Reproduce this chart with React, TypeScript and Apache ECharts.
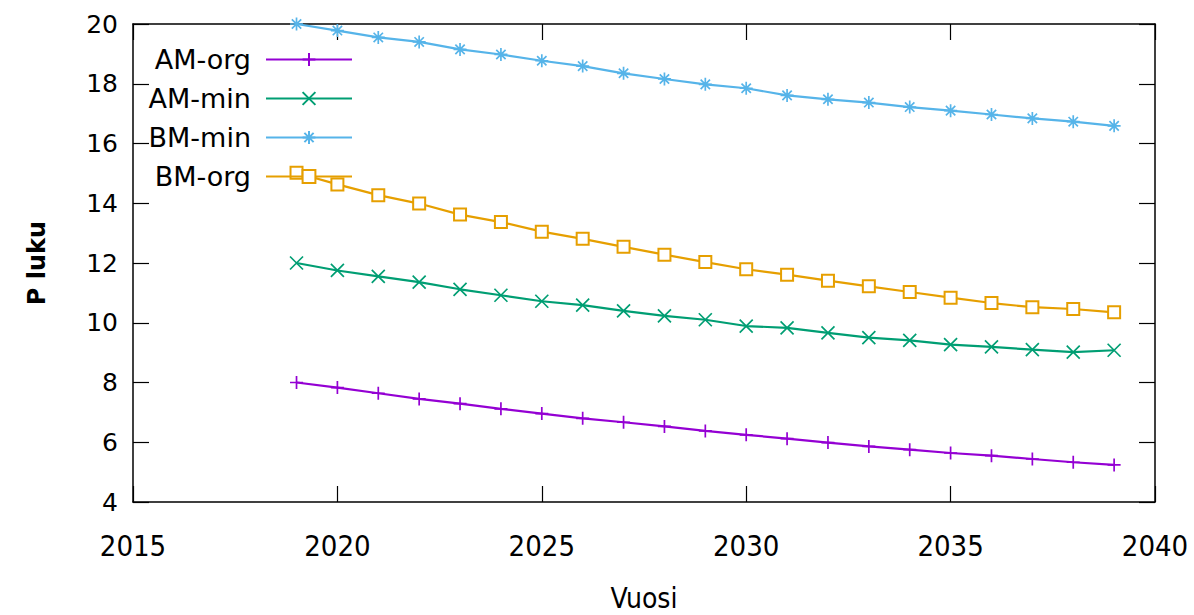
import React, { useEffect, useRef } from "react";
import * as echarts from "echarts";

const years = [2019, 2020, 2021, 2022, 2023, 2024, 2025, 2026, 2027, 2028, 2029, 2030, 2031, 2032, 2033, 2034, 2035, 2036, 2037, 2038, 2039];
const amOrg = [8.0, 7.83, 7.64, 7.45, 7.29, 7.12, 6.96, 6.8, 6.67, 6.53, 6.38, 6.25, 6.12, 5.99, 5.86, 5.75, 5.64, 5.55, 5.44, 5.33, 5.24];
const amMin = [12.0, 11.75, 11.55, 11.36, 11.12, 10.92, 10.72, 10.59, 10.4, 10.23, 10.1, 9.89, 9.83, 9.66, 9.5, 9.41, 9.27, 9.19, 9.1, 9.02, 9.08];
const bmMin = [20.0, 19.78, 19.55, 19.4, 19.15, 18.98, 18.77, 18.59, 18.35, 18.16, 17.98, 17.85, 17.61, 17.48, 17.37, 17.22, 17.1, 16.97, 16.84, 16.73, 16.59];
const bmOrg = [15.02, 14.63, 14.27, 13.99, 13.62, 13.37, 13.05, 12.81, 12.54, 12.28, 12.03, 11.79, 11.61, 11.41, 11.22, 11.03, 10.84, 10.66, 10.52, 10.46, 10.35];
const seriesNames = ["AM-org", "AM-min", "BM-min", "BM-org"];
const xTicks = { min: 2015, max: 2040, step: 5 };
const yTicks = { min: 4, max: 20, step: 2 };

const colors = ["#9400D3", "#009E73", "#56B4E9", "#E69F00"];
const symbols = [
  "path://M0,-1V1M-1,0H1",
  "path://M-1,-1L1,1M-1,1L1,-1",
  "path://M0,-1V1M-1,0H1M-0.72,-0.72L0.72,0.72M-0.72,0.72L0.72,-0.72",
  "emptyRect",
];

export default function App() {
  const ref = useRef<HTMLDivElement>(null);
  useEffect(() => {
    if (!ref.current) return;
    const chart = echarts.init(ref.current, null, { renderer: "svg" });
    const values = [amOrg, amMin, bmMin, bmOrg];
    const axisLine = { show: true, lineStyle: { color: "#000", width: 1.5 } };
    const tick = { show: true, inside: true, length: 16, lineStyle: { color: "#000", width: 1.2 } };
    const xLabelFont = "'DejaVu Sans Condensed', 'DejaVu Sans', sans-serif";
    chart.setOption({
      animation: false,
      backgroundColor: "#fff",
      grid: { left: 133, right: 39, top: 24, bottom: 113, containLabel: false, outerBoundsMode: "none" },
      legend: {
        orient: "vertical",
        align: "right",
        right: 841,
        top: 46,
        padding: 0,
        itemWidth: 86,
        itemHeight: 16,
        itemGap: 12,
        data: seriesNames,
        textStyle: {
          fontFamily: "'DejaVu Sans', sans-serif",
          fontSize: 27,
          color: "#000",
          padding: [0, 10, 0, 0],
        },
      },
      xAxis: [
        {
          type: "value",
          min: xTicks.min,
          max: xTicks.max,
          interval: xTicks.step,
          position: "bottom",
          name: "Vuosi",
          nameLocation: "middle",
          nameGap: 82,
          nameTextStyle: { fontFamily: xLabelFont, fontSize: 28, color: "#000" },
          axisLine,
          axisTick: tick,
          splitLine: { show: false },
          axisLabel: {
            fontFamily: xLabelFont,
            fontSize: 29,
            color: "#000",
            margin: 29,
            formatter: (v: number) => String(v),
          },
        },
        {
          type: "value",
          min: xTicks.min,
          max: xTicks.max,
          interval: xTicks.step,
          position: "top",
          axisLine,
          axisTick: tick,
          splitLine: { show: false },
          axisLabel: { show: false },
        },
      ],
      yAxis: [
        {
          type: "value",
          min: yTicks.min,
          max: yTicks.max,
          interval: yTicks.step,
          position: "left",
          name: "P luku",
          nameLocation: "middle",
          nameGap: 84,
          nameTextStyle: { fontFamily: "'DejaVu Sans', sans-serif", fontSize: 24, fontWeight: "bold", color: "#000" },
          axisLine,
          axisTick: tick,
          splitLine: { show: false },
          axisLabel: { fontFamily: "'DejaVu Sans', sans-serif", fontSize: 25, color: "#000", margin: 15 },
        },
        {
          type: "value",
          min: yTicks.min,
          max: yTicks.max,
          interval: yTicks.step,
          position: "right",
          axisLine,
          axisTick: tick,
          splitLine: { show: false },
          axisLabel: { show: false },
        },
      ],
      series: seriesNames.map((name, i) => ({
        name,
        type: "line",
        xAxisIndex: 0,
        yAxisIndex: 0,
        data: years.map((y, j) => [y, values[i][j]]),
        symbol: symbols[i],
        symbolSize: i === 3 ? 12 : 13,
        showAllSymbol: true,
        clip: false,
        lineStyle: { color: colors[i], width: 2.2 },
        itemStyle: { color: colors[i], borderColor: colors[i], borderWidth: 1.7 },
        emphasis: { disabled: true },
      })),
    });
    return () => chart.dispose();
  }, []);
  return (
    <div
      ref={ref}
      style={{ position: "fixed", left: 0, top: 0, width: 1194, height: 615, background: "#fff" }}
    />
  );
}
